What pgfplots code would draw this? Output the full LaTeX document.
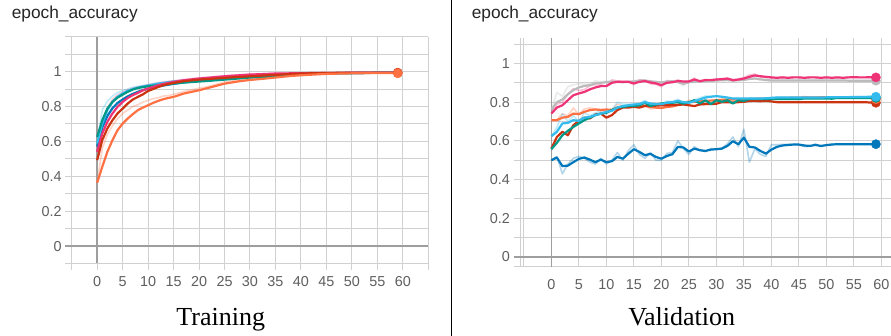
\documentclass[border=0pt]{standalone}
\usepackage{fontspec}
\setmainfont{Liberation Serif}
\newfontfamily\tbfont{Liberation Sans}
\usepackage{pgfplots}
\usepackage{pgfplotstable}
\pgfplotsset{compat=1.18}
\definecolor{tbOrange}{HTML}{FF7043}
\definecolor{tbBlue}{HTML}{0077BB}
\definecolor{tbRed}{HTML}{CC3311}
\definecolor{tbCyan}{HTML}{33BBEE}
\definecolor{tbMag}{HTML}{EE3377}
\definecolor{tbTeal}{HTML}{009988}
\definecolor{tbGray}{HTML}{BBBBBB}
\definecolor{gridc}{HTML}{D0D0D0}
\definecolor{zeroc}{HTML}{9E9E9E}
\definecolor{labc}{HTML}{5F5F5F}

\pgfplotstableread{
e orng red pink cyan teal blue orngR cyanR pinkR
0  .363 .492 .540 .588 .626 .570 .363 .588 .540
1  .454 .607 .645 .702 .721 .680 .560 .780 .700
2  .540 .674 .712 .779 .788 .745 .640 .830 .790
3  .607 .721 .760 .826 .826 .790 .690 .860 .840
4  .664 .760 .798 .855 .851 .820 .730 .880 .865
5  .702 .788 .826 .874 .868 .840 .760 .890 .880
6  .731 .817 .849 .889 .884 .858 .780 .900 .895
7  .756 .840 .865 .900 .897 .872 .800 .910 .905
8  .779 .855 .878 .908 .906 .884 .810 .915 .912
9  .794 .870 .893 .914 .911 .894 .825 .920 .918
10 .807 .889 .903 .920 .916 .902 .835 .925 .924
11 .821 .900 .912 .925 .919 .909 .845 .930 .930
12 .832 .912 .922 .931 .922 .915 .850 .934 .936
13 .842 .922 .929 .935 .925 .920 .860 .937 .940
14 .849 .929 .935 .939 .928 .925 .862 .941 .944
15 .855 .935 .941 .943 .931 .930 .870 .945 .947
17 .874 .945 .950 .948 .937 .938 .885 .950 .955
20 .893 .954 .960 .954 .943 .947 .905 .957 .964
22 .908 .958 .965 .958 .947 .952 .915 .960 .968
25 .931 .964 .973 .966 .954 .960 .940 .968 .976
28 .945 .970 .979 .972 .961 .967 .952 .973 .982
30 .952 .973 .983 .975 .966 .971 .958 .977 .985
33 .960 .978 .986 .980 .970 .976 .966 .981 .988
35 .966 .981 .989 .983 .973 .979 .971 .984 .990
38 .975 .986 .990 .986 .980 .983 .979 .987 .991
40 .979 .989 .991 .988 .985 .986 .983 .989 .992
45 .987 .992 .992 .991 .989 .990 .989 .992 .993
50 .990 .994 .993 .992 .991 .992 .991 .993 .993
55 .992 .994 .993 .993 .993 .993 .992 .993 .993
59 .992 .994 .993 .993 .993 .993 .992 .993 .993
}\train

\pgfplotstableread{
e blue blueR mag magR gray grayR orng orngR red teal cyan cyanR
0  .500 .500 .741 .741 .760 .760 .707 .707 .560 .557 .624 .624
1  .514 .520 .772 .790 .800 .850 .707 .710 .620 .590 .647 .670
2  .470 .430 .784 .800 .814 .830 .720 .740 .647 .629 .690 .740
3  .472 .480 .810 .840 .841 .880 .724 .730 .629 .652 .693 .700
4  .490 .510 .836 .870 .862 .890 .741 .770 .681 .672 .707 .730
5  .507 .520 .845 .860 .876 .895 .738 .735 .703 .690 .703 .700
6  .514 .510 .853 .865 .884 .893 .750 .765 .720 .707 .720 .745
7  .503 .490 .866 .885 .888 .893 .759 .770 .716 .720 .724 .730
8  .490 .480 .876 .890 .897 .910 .762 .765 .736 .733 .733 .745
9  .503 .510 .883 .890 .900 .905 .760 .755 .741 .741 .741 .755
10 .490 .480 .883 .883 .903 .908 .762 .740 .720 .745 .750 .760
11 .495 .500 .900 .915 .905 .908 .760 .760 .733 .759 .755 .760
12 .517 .540 .905 .910 .905 .905 .772 .790 .759 .772 .772 .800
13 .508 .500 .905 .905 .903 .900 .776 .780 .772 .775 .780 .790
14 .534 .550 .905 .905 .905 .908 .778 .780 .772 .780 .784 .790
15 .557 .580 .897 .890 .907 .910 .780 .785 .776 .780 .788 .790
16 .543 .530 .905 .915 .910 .915 .779 .775 .772 .784 .790 .793
17 .526 .510 .909 .912 .912 .914 .782 .785 .780 .797 .800 .810
18 .533 .540 .902 .895 .908 .904 .775 .765 .780 .780 .793 .785
19 .517 .500 .897 .892 .905 .902 .772 .770 .782 .788 .790 .788
20 .508 .500 .888 .880 .902 .898 .770 .768 .784 .793 .790 .790
21 .522 .535 .900 .912 .906 .910 .775 .780 .784 .797 .797 .805
22 .531 .540 .903 .906 .908 .910 .778 .782 .785 .797 .800 .803
23 .569 .600 .909 .915 .904 .900 .785 .790 .786 .800 .807 .815
24 .566 .560 .907 .905 .895 .885 .790 .795 .788 .793 .800 .795
25 .545 .530 .907 .907 .903 .911 .800 .810 .784 .800 .797 .795
26 .560 .570 .917 .925 .905 .907 .802 .804 .780 .810 .805 .812
27 .552 .550 .909 .903 .908 .910 .804 .806 .788 .793 .814 .822
28 .548 .545 .914 .918 .908 .908 .806 .808 .790 .810 .824 .832
29 .555 .560 .914 .914 .910 .912 .808 .810 .790 .790 .828 .830
30 .557 .558 .917 .920 .912 .914 .810 .812 .792 .810 .831 .833
31 .560 .562 .919 .920 .913 .914 .812 .814 .800 .802 .828 .826
32 .574 .585 .922 .924 .914 .915 .812 .812 .800 .810 .824 .820
33 .598 .620 .914 .908 .912 .910 .814 .816 .798 .793 .819 .815
34 .583 .570 .917 .920 .913 .914 .814 .814 .800 .810 .819 .818
35 .617 .660 .922 .927 .915 .917 .815 .816 .802 .807 .819 .819
36 .569 .490 .931 .940 .920 .925 .816 .817 .806 .816 .819 .819
37 .566 .560 .938 .945 .922 .924 .817 .818 .807 .816 .819 .819
38 .548 .530 .934 .930 .918 .914 .818 .819 .805 .816 .819 .820
39 .534 .520 .931 .928 .915 .912 .818 .818 .807 .816 .820 .821
40 .555 .580 .928 .925 .912 .910 .820 .822 .804 .816 .822 .824
41 .569 .580 .926 .924 .912 .912 .820 .820 .800 .816 .824 .826
42 .576 .582 .928 .930 .912 .912 .822 .824 .800 .816 .824 .824
43 .579 .581 .926 .924 .912 .912 .822 .822 .800 .816 .824 .824
44 .581 .582 .928 .930 .912 .912 .823 .825 .800 .816 .824 .824
45 .581 .580 .928 .928 .912 .912 .823 .822 .800 .816 .824 .824
46 .576 .570 .926 .924 .912 .911 .824 .830 .800 .819 .824 .826
47 .574 .572 .928 .930 .912 .912 .824 .824 .800 .819 .824 .824
48 .579 .584 .928 .928 .912 .912 .824 .825 .800 .819 .824 .824
49 .574 .570 .926 .924 .912 .912 .825 .826 .800 .819 .824 .824
50 .578 .580 .928 .930 .912 .913 .825 .825 .800 .819 .825 .826
51 .581 .583 .926 .925 .912 .912 .825 .824 .800 .818 .825 .825
52 .583 .584 .928 .929 .912 .912 .826 .828 .800 .822 .826 .827
53 .583 .583 .926 .925 .912 .912 .826 .826 .800 .822 .826 .826
54 .583 .583 .928 .929 .911 .911 .826 .826 .800 .822 .826 .826
55 .583 .583 .929 .930 .911 .911 .826 .826 .800 .822 .827 .827
56 .583 .583 .928 .928 .911 .911 .826 .826 .800 .822 .827 .828
57 .583 .583 .928 .928 .911 .911 .826 .826 .800 .822 .827 .828
58 .583 .583 .929 .929 .911 .911 .826 .826 .798 .822 .828 .828
59 .583 .583 .928 .928 .911 .911 .826 .826 .797 .822 .828 .828
}\valid

\pgfplotsset{
  tb/.style={
    scale only axis, anchor=south west, clip=false,
    axis line style={draw=none},
    grid=major, grid style={draw=gridc, line width=1pt},
    tick align=outside, major tick length=6.5pt,
    tick style={draw=gridc, line width=1pt},
    xtick pos=bottom, ytick pos=left,
    ticklabel style={font=\tbfont\fontsize{14.4}{16}\selectfont, text=labc},
    xticklabel style={yshift=-3pt},
    /pgf/number format/assume math mode=true,
    extra x ticks={0}, extra x tick labels={},
    extra x tick style={grid style={draw=zeroc, line width=1.4pt}, major tick length=0pt},
    extra y ticks={0}, extra y tick labels={},
    extra y tick style={grid style={draw=zeroc, line width=1.4pt}, tick style={draw=zeroc, line width=1.4pt}},
  },
  sm/.style={line width=2.2pt, line join=round, no marks},
  raw/.style={line width=1.6pt, line join=round, no marks, opacity=0.3},
}

\begin{document}
\begin{tikzpicture}
\useasboundingbox (0,0) rectangle (891pt,336pt);
\fill[white] (0,0) rectangle (891pt,336pt);

% ---------- Training ----------
\begin{axis}[tb, at={(71.7pt,72.5pt)}, width=356.6pt, height=226.8pt,
  xmin=-5, xmax=65, ymin=-0.1, ymax=1.2,
  xtick={-5,0,5,10,15,20,25,30,35,40,45,50,55,60,65},
  xticklabels={,0,5,10,15,20,25,30,35,40,45,50,55,60,},
  ytick={-0.1,0,0.1,0.2,0.3,0.4,0.5,0.6,0.7,0.8,0.9,1,1.1,1.2},
  yticklabels={,0,,0.2,,0.4,,0.6,,0.8,,1,,},
]
\addplot[raw, tbOrange] table[x=e, y=orngR] {\train};
\addplot[raw, tbCyan] table[x=e, y=cyanR] {\train};
\addplot[raw, tbMag] table[x=e, y=pinkR] {\train};
\addplot[sm, tbBlue] table[x=e, y=blue] {\train};
\addplot[sm, tbCyan] table[x=e, y=cyan] {\train};
\addplot[sm, tbTeal] table[x=e, y=teal] {\train};
\addplot[sm, tbMag] table[x=e, y=pink] {\train};
\addplot[sm, tbRed] table[x=e, y=red] {\train};
\addplot[sm, tbOrange] table[x=e, y=orng] {\train};
\addplot[only marks, mark=*, mark size=4.6pt, tbRed] coordinates {(59,0.994)};
\addplot[only marks, mark=*, mark size=4.6pt, tbOrange] coordinates {(59,0.99)};
\end{axis}

\node[anchor=base west, font=\tbfont\fontsize{17.3}{20}\selectfont, text=black!85] at (8.3pt,317pt) {epoch\_accuracy};
\node[anchor=base, font=\fontsize{26}{30}\selectfont] at (220.8pt,10pt) {Training};

\draw[black, line width=1.3pt] (451.7pt,0) -- (451.7pt,336pt);

% ---------- Validation ----------
\begin{axis}[tb, at={(520pt,69.3pt)}, width=372.4pt, height=228.4pt,
  xmin=-5.7, xmax=62, ymin=-0.05, ymax=1.13,
  xtick={-5.7,-5,0,5,10,15,20,25,30,35,40,45,50,55,60},
  xticklabels={,,0,5,10,15,20,25,30,35,40,45,50,55,60},
  ytick={-0.05,0,0.1,0.2,0.3,0.4,0.5,0.6,0.7,0.8,0.9,1,1.1},
  yticklabels={,0,,0.2,,0.4,,0.6,,0.8,,1,},
  xtick style={draw=none},
]
\addplot[raw, tbBlue] table[x=e, y=blueR] {\valid};
\addplot[raw, tbGray] table[x=e, y=grayR] {\valid};
\addplot[raw, tbMag] table[x=e, y=magR] {\valid};
\addplot[raw, tbOrange] table[x=e, y=orngR] {\valid};
\addplot[raw, tbCyan] table[x=e, y=cyanR] {\valid};
\addplot[sm, tbGray] table[x=e, y=gray] {\valid};
\addplot[sm, tbOrange] table[x=e, y=orng] {\valid};
\addplot[sm, tbRed] table[x=e, y=red] {\valid};
\addplot[sm, tbTeal] table[x=e, y=teal] {\valid};
\addplot[sm, tbCyan] table[x=e, y=cyan] {\valid};
\addplot[sm, tbMag] table[x=e, y=mag] {\valid};
\addplot[sm, tbBlue] table[x=e, y=blue] {\valid};
\addplot[only marks, mark=*, mark size=4.6pt, tbGray] coordinates {(59,0.911)};
\addplot[only marks, mark=*, mark size=4.6pt, tbRed] coordinates {(59,0.797)};
\addplot[only marks, mark=*, mark size=4.6pt, tbOrange] coordinates {(59,0.815)};
\addplot[only marks, mark=*, mark size=4.6pt, tbTeal] coordinates {(59,0.822)};
\addplot[only marks, mark=*, mark size=4.6pt, tbCyan] coordinates {(59,0.828)};
\addplot[only marks, mark=*, mark size=4.6pt, tbMag] coordinates {(59,0.928)};
\addplot[only marks, mark=*, mark size=4.6pt, tbBlue] coordinates {(59,0.583)};
\end{axis}

\node[anchor=base west, font=\tbfont\fontsize{17.3}{20}\selectfont, text=black!85] at (468.3pt,317pt) {epoch\_accuracy};
\node[anchor=base, font=\fontsize{26}{30}\selectfont] at (681.7pt,10pt) {Validation};
\end{tikzpicture}
\end{document}
